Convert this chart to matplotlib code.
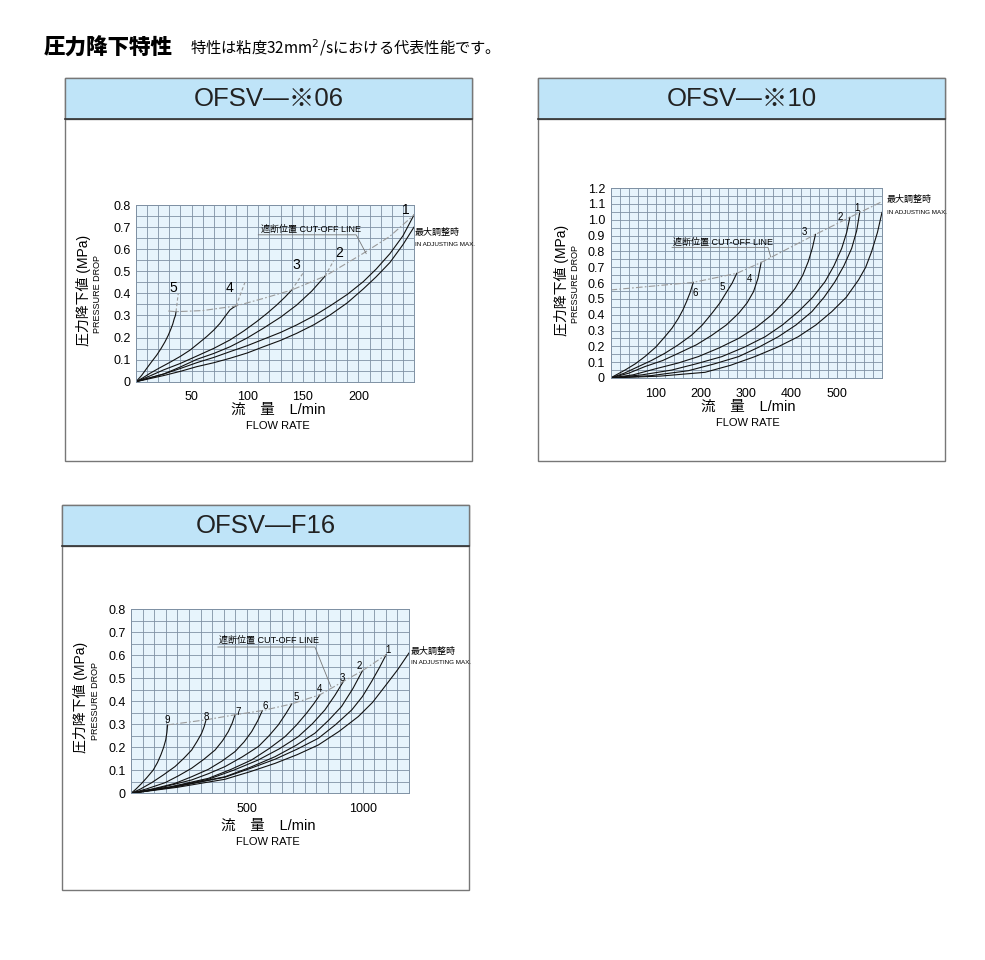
import numpy as np
import matplotlib
matplotlib.use("Agg")
import matplotlib.pyplot as plt
from matplotlib.patches import Rectangle

plt.rcParams['font.family'] = ['Liberation Sans', 'Noto Sans CJK JP', 'DejaVu Sans']

W, H = 985, 960

# ---- OFSV-*06 ----
p1_names = ['1', '2', '3', '4', '5', 'max']
p1_x = [
    [0, 25, 40, 54.6, 70, 84.5, 100, 114.5, 130, 144.5, 160, 174.5, 190, 204.4, 216, 228.4, 240, 250],
    [0, 25, 40, 54.6, 70, 84.5, 100, 114.5, 130, 144.5, 158, 170],
    [0, 12, 24.6, 40, 54.6, 70, 84.5, 97, 108.5, 118, 126.5, 134, 140],
    [0, 6, 12.6, 21, 30.6, 40, 48.6, 56, 63.5, 70, 75.5, 80, 84.5, 87.5, 90],
    [0, 5, 9.6, 14, 18.6, 22.5, 26, 29, 31, 33, 34.5, 35.5, 36],
    [0, 25, 40, 54.6, 70, 84.5, 100, 114.5, 130, 144.5, 160, 174.5, 190, 204.4, 216, 228.4, 240, 250],
]
p1_y = [
    [0, 0.035, 0.06, 0.086, 0.11, 0.136, 0.163, 0.192, 0.223, 0.257, 0.298, 0.343, 0.395, 0.453, 0.51, 0.58, 0.66, 0.755],
    [0, 0.035, 0.067, 0.101, 0.128, 0.158, 0.198, 0.242, 0.292, 0.347, 0.41, 0.478],
    [0, 0.025, 0.053, 0.083, 0.116, 0.151, 0.189, 0.23, 0.272, 0.31, 0.347, 0.383, 0.415],
    [0, 0.017, 0.038, 0.062, 0.088, 0.115, 0.143, 0.173, 0.204, 0.234, 0.264, 0.295, 0.325, 0.336, 0.343],
    [0, 0.028, 0.06, 0.09, 0.12, 0.15, 0.18, 0.21, 0.234, 0.26, 0.287, 0.30, 0.317],
    [0, 0.028, 0.047, 0.068, 0.086, 0.106, 0.13, 0.158, 0.187, 0.219, 0.258, 0.302, 0.357, 0.42, 0.475, 0.54, 0.62, 0.70],
]
p1_cut_x = [29, 36, 60, 90, 114.5, 140, 170, 204, 228, 250]
p1_cut_y = [0.32, 0.317, 0.322, 0.343, 0.377, 0.415, 0.478, 0.58, 0.657, 0.755]
p1_label_x = [243, 183, 144.5, 84.5, 33.6]
p1_label_y = [0.777, 0.581, 0.528, 0.423, 0.423]
p1_ext = [(170, 0.478, 178, 0.55), (140, 0.415, 150, 0.49), (90, 0.343, 98, 0.45), (36, 0.317, 38, 0.40)]

# ---- OFSV-*10 ----
p2_names = ['1', '2', '3', '4', '5', '6', 'max']
p2_x = [
    [0, 90, 172, 228, 283, 328, 371, 410, 445, 472, 496, 516, 533, 544, 551],
    [0, 70, 135, 190, 246, 296, 342, 380, 415, 447, 474, 494, 511, 522, 529],
    [0, 50, 98, 150, 194, 240, 283, 322, 356, 384, 408, 425, 437, 446, 453],
    [0, 40, 76, 115, 150, 190, 224, 256, 283, 302, 316, 326, 333],
    [0, 30, 61.5, 90, 120, 150, 179, 203, 224, 242, 257, 269, 279],
    [0, 32, 55, 76, 100, 120, 136, 150, 160, 168, 176, 183],
    [0, 110, 209, 265, 319, 369, 415, 454, 489, 521, 548, 564, 577, 590, 600],
]
p2_y = [
    [0, 0.015, 0.046, 0.088, 0.135, 0.195, 0.261, 0.335, 0.419, 0.51, 0.608, 0.71, 0.819, 0.93, 1.05],
    [0, 0.02, 0.05, 0.09, 0.135, 0.195, 0.261, 0.335, 0.419, 0.51, 0.608, 0.71, 0.819, 0.92, 1.015],
    [0, 0.02, 0.057, 0.095, 0.135, 0.19, 0.25, 0.32, 0.398, 0.48, 0.566, 0.65, 0.735, 0.82, 0.907],
    [0, 0.03, 0.072, 0.11, 0.156, 0.21, 0.27, 0.335, 0.408, 0.475, 0.545, 0.63, 0.73],
    [0, 0.03, 0.072, 0.11, 0.156, 0.21, 0.27, 0.335, 0.408, 0.475, 0.545, 0.6, 0.661],
    [0, 0.05, 0.09, 0.135, 0.195, 0.26, 0.315, 0.377, 0.43, 0.482, 0.54, 0.604],
    [0, 0.012, 0.036, 0.08, 0.135, 0.195, 0.261, 0.335, 0.419, 0.51, 0.619, 0.7, 0.798, 0.92, 1.046],
]
p2_cut_x = [0, 183, 279, 333, 453, 529, 600]
p2_cut_y = [0.556, 0.604, 0.661, 0.73, 0.907, 1.015, 1.114]
p2_label_x = [545, 507, 428, 307, 247, 188]
p2_label_y = [1.076, 1.019, 0.924, 0.625, 0.577, 0.535]

# ---- OFSV-F16 ----
p3_names = ['1', '2', '3', '4', '5', '6', '7', '8', '9', 'max']
p3_x = [
    [0, 200, 406, 515, 622, 718, 809, 883, 953, 999, 1039, 1072, 1101],
    [0, 200, 406, 515, 622, 712, 794, 853, 909, 958, 999],
    [0, 170, 334, 445, 550, 640, 722, 783, 837, 880, 917],
    [0, 170, 334, 430, 521, 596, 665, 714, 758, 790, 816],
    [0, 130, 262, 334, 406, 480, 550, 596, 636, 668, 694],
    [0, 90, 190, 262, 334, 393, 449, 488, 521, 547, 567],
    [0, 70, 147, 205, 262, 315, 363, 395, 420, 437, 449],
    [0, 40, 89, 140, 190, 228, 262, 285, 305, 316, 324],
    [0, 20, 46, 70, 96, 114, 129, 141, 150, 155, 158],
    [0, 200, 406, 515, 622, 718, 809, 897, 981, 1043, 1096, 1150, 1200],
]
p3_y = [
    [0, 0.03, 0.07, 0.108, 0.148, 0.192, 0.239, 0.298, 0.362, 0.42, 0.486, 0.545, 0.601],
    [0, 0.03, 0.072, 0.113, 0.159, 0.208, 0.261, 0.317, 0.377, 0.455, 0.532],
    [0, 0.027, 0.061, 0.101, 0.145, 0.193, 0.246, 0.302, 0.362, 0.425, 0.486],
    [0, 0.028, 0.065, 0.103, 0.145, 0.194, 0.246, 0.296, 0.348, 0.39, 0.428],
    [0, 0.025, 0.058, 0.085, 0.116, 0.158, 0.203, 0.25, 0.297, 0.345, 0.388],
    [0, 0.018, 0.043, 0.072, 0.104, 0.14, 0.181, 0.223, 0.268, 0.315, 0.359],
    [0, 0.02, 0.046, 0.076, 0.109, 0.148, 0.188, 0.228, 0.268, 0.305, 0.341],
    [0, 0.018, 0.046, 0.08, 0.116, 0.152, 0.188, 0.225, 0.261, 0.29, 0.319],
    [0, 0.017, 0.043, 0.07, 0.101, 0.133, 0.167, 0.2, 0.232, 0.265, 0.297],
    [0, 0.026, 0.061, 0.094, 0.13, 0.168, 0.21, 0.268, 0.333, 0.395, 0.464, 0.535, 0.609],
]
p3_cut_x = [158, 324, 449, 567, 694, 816, 917, 999, 1101]
p3_cut_y = [0.297, 0.319, 0.341, 0.359, 0.388, 0.428, 0.486, 0.532, 0.601]
p3_label_x = [1108, 986, 912, 812, 715, 578, 463, 327, 158]
p3_label_y = [0.62, 0.551, 0.5, 0.452, 0.416, 0.377, 0.355, 0.333, 0.319]

fig = plt.figure(figsize=(W / 100, H / 100), dpi=100)
bg = fig.add_axes([0, 0, 1, 1])
bg.set_xlim(0, W)
bg.set_ylim(H, 0)
bg.axis('off')

bg.text(44, 48, '圧力降下特性', fontsize=15.5, fontweight='heavy', va='center', ha='left',
        family=['Noto Sans CJK JP'])
bg.text(190, 48, '特性は粘度32mm$^2$/sにおける代表性能です。', fontsize=11, va='center', ha='left',
        family=['Noto Sans CJK JP', 'DejaVu Sans'])

HEADER = '#bfe4f8'
PLOTBG = '#e7f4fc'
GRID = '#7f91a4'
CUT = '#9a9a9a'


def panel(x0, y0, x1, y1, title):
    bg.add_patch(Rectangle((x0, y0), x1 - x0, y1 - y0, fc='white', ec='#777777', lw=1))
    bg.add_patch(Rectangle((x0, y0), x1 - x0, 41, fc=HEADER, ec='#777777', lw=1))
    bg.plot([x0, x1], [y0 + 41, y0 + 41], color='#333333', lw=1.2)
    bg.text((x0 + x1) / 2, y0 + 21, title, fontsize=18.5, ha='center', va='center', color='#222222')


def px_axes(l, t, r, b):
    return fig.add_axes([l / W, 1 - b / H, (r - l) / W, (b - t) / H])


def setup(ax, xmax, xstep, xmajor, ymax, ystep, yticks, ylabels):
    ax.set_facecolor(PLOTBG)
    ax.set_xlim(0, xmax)
    ax.set_ylim(0, ymax)
    ax.set_xticks(xmajor)
    ax.set_xticks(np.arange(0, xmax + 0.001, xstep), minor=True)
    ax.set_yticks(yticks)
    ax.set_yticklabels(ylabels)
    ax.set_yticks(np.arange(0, ymax + 0.0001, ystep), minor=True)
    ax.grid(True, which='both', color=GRID, lw=0.6)
    ax.set_axisbelow(True)
    ax.tick_params(which='both', length=0, labelsize=9, pad=4)
    ax.tick_params(axis='x', pad=7)
    for s in ax.spines.values():
        s.set_color(GRID)
        s.set_linewidth(0.7)


def axis_text(cx, ylab_x, ylab_cy, xlab_y):
    bg.text(ylab_x, ylab_cy, '圧力降下値 (MPa)', rotation=90, fontsize=10, ha='center', va='center')
    bg.text(ylab_x + 15, ylab_cy + 4, 'PRESSURE DROP', rotation=90, fontsize=6.5, ha='center', va='center')
    bg.text(cx, xlab_y, '流　量　L/min', fontsize=10.5, ha='center', va='center')
    bg.text(cx, xlab_y + 16, 'FLOW RATE', fontsize=8, ha='center', va='center')


def curves(ax, xs, ys, cutx, cuty, lx, ly, names, fs):
    for x, y in zip(xs, ys):
        ax.plot(x, y, color='#111111', lw=0.8)
    ax.plot(cutx, cuty, color=CUT, lw=0.8, ls=(0, (6, 2, 1.5, 2)))
    for n, x, y in zip(names, lx, ly):
        ax.text(x, y, n, fontsize=fs, ha='center', va='center')


# panel 1
panel(65, 78, 472, 461, 'OFSV—※06')
ax1 = px_axes(136, 205, 414, 381.7)
setup(ax1, 250, 10, [50, 100, 150, 200], 0.8, 0.05,
      [0, 0.1, 0.2, 0.3, 0.4, 0.5, 0.6, 0.7, 0.8],
      ['0', '0.1', '0.2', '0.3', '0.4', '0.5', '0.6', '0.7', '0.8'])
curves(ax1, p1_x, p1_y, p1_cut_x, p1_cut_y, p1_label_x, p1_label_y, p1_names, 10)
for a, b, c, d in p1_ext:
    ax1.plot([a, c], [b, d], color=CUT, lw=0.8, ls=(0, (3, 2)))
ax1.text(112, 0.69, '遮断位置 CUT-OFF LINE', fontsize=6.5, ha='left', va='center')
ax1.plot([110, 198, 207], [0.665, 0.665, 0.58], color='#777777', lw=0.6)
bg.text(415, 232, '最大調整時', fontsize=6.5, ha='left', va='center')
bg.text(415, 244, 'IN ADJUSTING MAX.', fontsize=4.5, ha='left', va='center')
axis_text(278, 83, 290, 410)

# panel 2
panel(538, 78, 945, 461, 'OFSV—※10')
ax2 = px_axes(610.5, 188, 882, 378)
setup(ax2, 600, 20, [100, 200, 300, 400, 500], 1.2, 0.05,
      [0, 0.1, 0.2, 0.3, 0.4, 0.5, 0.6, 0.7, 0.8, 0.9, 1.0, 1.1, 1.2],
      ['0', '0.1', '0.2', '0.3', '0.4', '0.5', '0.6', '0.7', '0.8', '0.9', '1.0', '1.1', '1.2'])
curves(ax2, p2_x, p2_y, p2_cut_x, p2_cut_y, p2_label_x, p2_label_y, p2_names, 7)
ax2.text(138, 0.855, '遮断位置 CUT-OFF LINE', fontsize=6.5, ha='left', va='center')
ax2.plot([136, 348, 354], [0.825, 0.825, 0.765], color='#777777', lw=0.6)
bg.text(887, 199, '最大調整時', fontsize=6.5, ha='left', va='center')
bg.text(887, 212, 'IN ADJUSTING MAX.', fontsize=4.5, ha='left', va='center')
axis_text(748, 561, 280, 407)

# panel 3
panel(62, 505, 469, 890, 'OFSV—F16')
ax3 = px_axes(131, 609, 409, 793.3)
setup(ax3, 1200, 50, [500, 1000], 0.8, 0.05,
      [0, 0.1, 0.2, 0.3, 0.4, 0.5, 0.6, 0.7, 0.8],
      ['0', '0.1', '0.2', '0.3', '0.4', '0.5', '0.6', '0.7', '0.8'])
curves(ax3, p3_x, p3_y, p3_cut_x, p3_cut_y, p3_label_x, p3_label_y, p3_names, 7)
ax3.text(380, 0.665, '遮断位置 CUT-OFF LINE', fontsize=6.5, ha='left', va='center')
ax3.plot([375, 794, 863], [0.635, 0.635, 0.463], color='#777777', lw=0.6)
bg.text(411, 651, '最大調整時', fontsize=6.5, ha='left', va='center')
bg.text(411, 662, 'IN ADJUSTING MAX.', fontsize=4.5, ha='left', va='center')
axis_text(268, 80, 697, 826)

fig.savefig('out.png', dpi=100)
